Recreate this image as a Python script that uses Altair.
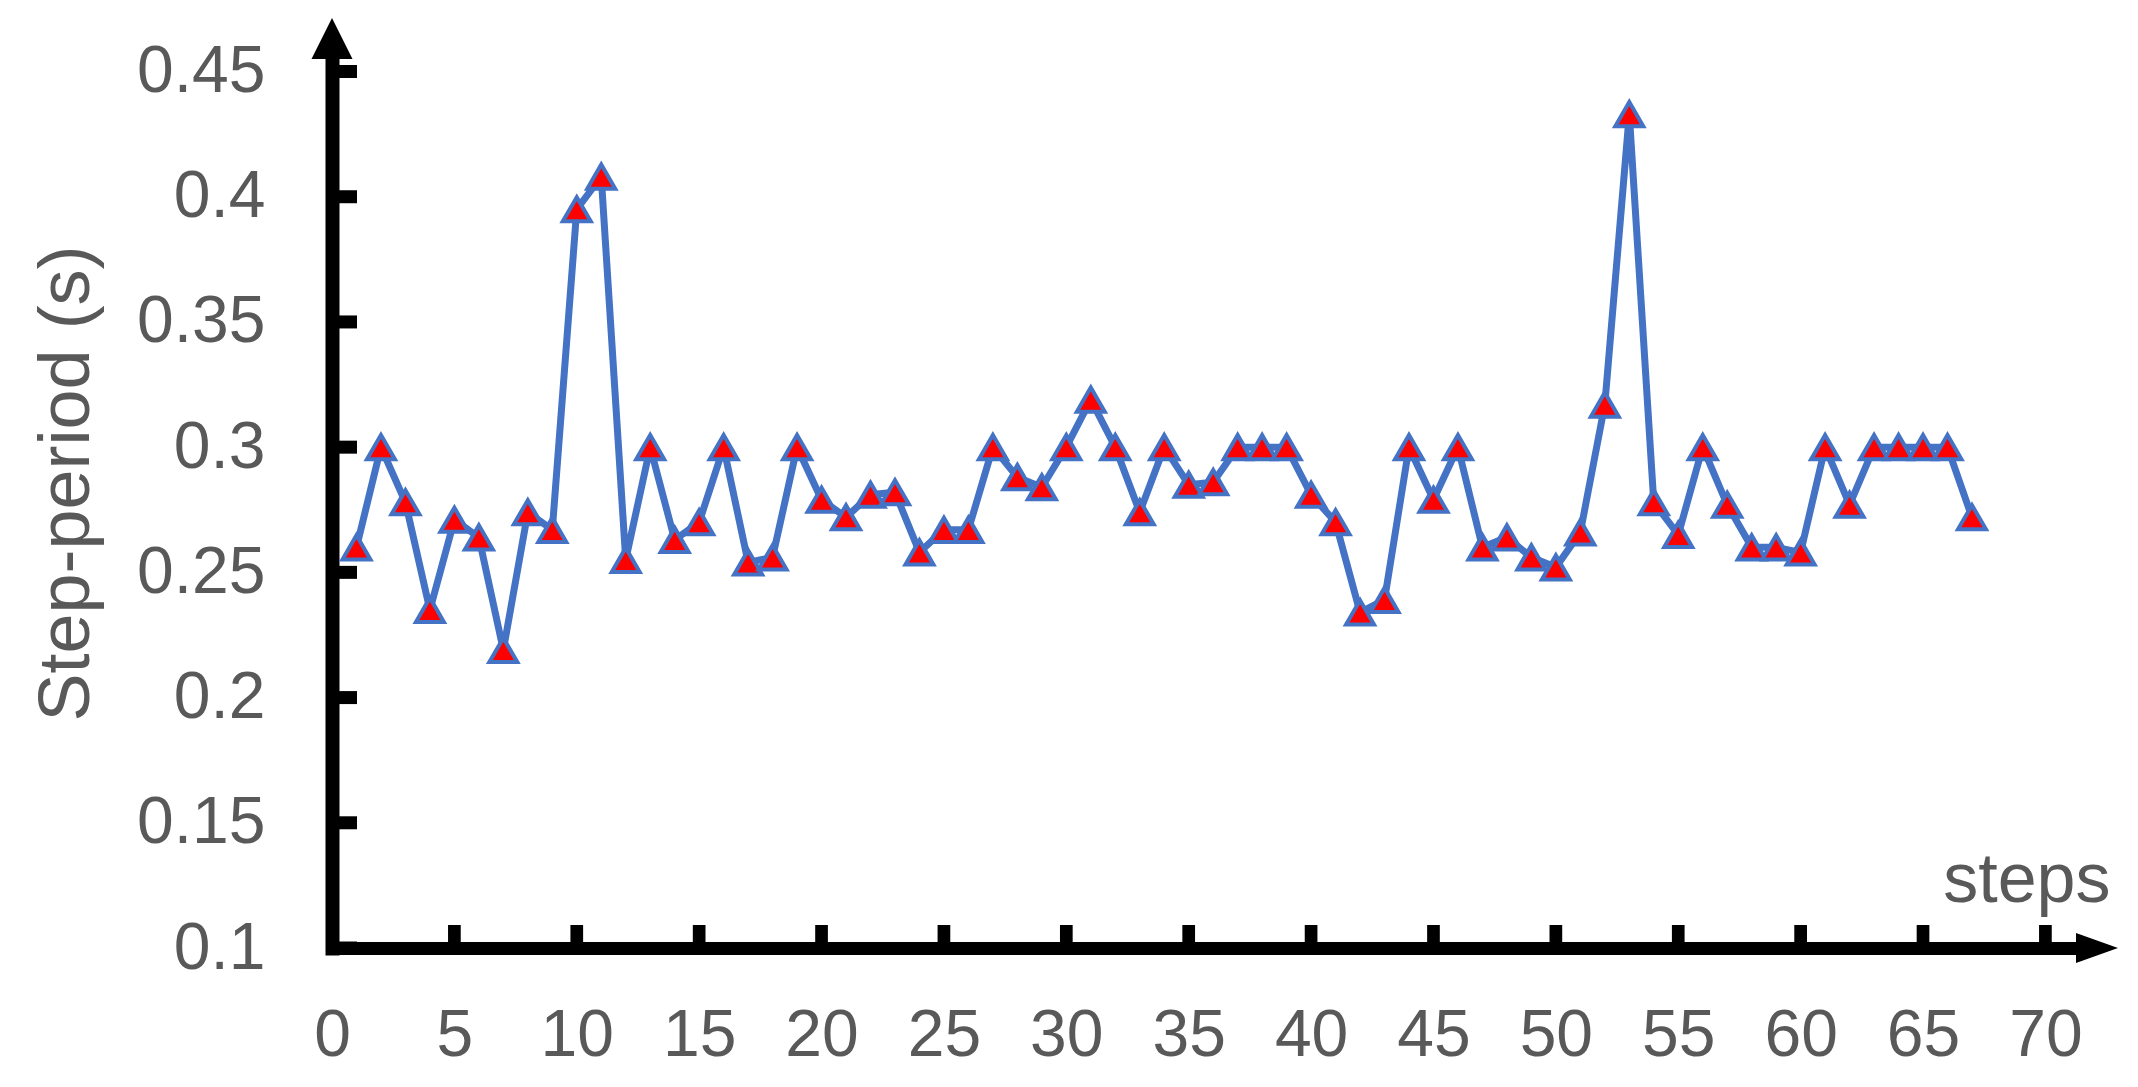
import altair as alt
import pandas as pd

# ---- data ----
steps = list(range(1, 68))
period = [0.260, 0.300, 0.278, 0.235, 0.271, 0.264, 0.219, 0.274, 0.267, 0.395,
          0.408, 0.255, 0.300, 0.263, 0.270, 0.300, 0.254, 0.256, 0.300, 0.279,
          0.272, 0.281, 0.282, 0.258, 0.267, 0.267, 0.300, 0.288, 0.284, 0.300,
          0.319, 0.300, 0.274, 0.300, 0.285, 0.286, 0.300, 0.300, 0.300, 0.281,
          0.270, 0.234, 0.239, 0.300, 0.279, 0.300, 0.260, 0.264, 0.256, 0.252,
          0.266, 0.317, 0.433, 0.278, 0.265, 0.300, 0.277, 0.260, 0.260, 0.258,
          0.300, 0.277, 0.300, 0.300, 0.300, 0.300, 0.272]
y_tick_values = [0.1, 0.15, 0.2, 0.25, 0.3, 0.35, 0.4, 0.45]
x_tick_values = [0, 5, 10, 15, 20, 25, 30, 35, 40, 45, 50, 55, 60, 65, 70]
x_inner_ticks = [5, 10, 15, 20, 25, 30, 35, 40, 45, 50, 55, 60, 65, 70]

X_MIN, X_MAX = 0, 71.25
Y_MIN, Y_MAX = 0.1, 0.455

W, H = 1744, 889
LABEL_FONT = "Liberation Sans"
GRAY = "#595959"
BLUE = "#4472C4"

df = pd.DataFrame({"step": steps, "period": period})
ytk = pd.DataFrame({"v": y_tick_values})
xtk = pd.DataFrame({"v": x_inner_ticks})
arrow_up = pd.DataFrame({"x": [X_MIN], "y": [Y_MAX]})
arrow_right = pd.DataFrame({"x": [X_MAX], "y": [Y_MIN]})

xs = alt.Scale(domain=[X_MIN, X_MAX], nice=False, zero=False)
ys = alt.Scale(domain=[Y_MIN, Y_MAX], nice=False, zero=False)

x_axis = alt.Axis(
    values=x_tick_values, format="d", grid=False, ticks=False,
    domain=True, domainColor="black", domainWidth=13, domainCap="square",
    labelFont=LABEL_FONT, labelFontSize=66, labelColor=GRAY, labelPadding=55,
    labelFlush=False, labelOverlap=False,
    title="steps", titleFont=LABEL_FONT, titleFontSize=70, titleColor=GRAY,
    titleFontWeight="normal", titleAlign="right", titleBaseline="alphabetic",
    titleX=1778, titleY=-47,
)
y_axis = alt.Axis(
    values=y_tick_values, format="~g", grid=False, ticks=False,
    domain=True, domainColor="black", domainWidth=14, domainCap="square",
    labelFont=LABEL_FONT, labelFontSize=66, labelColor=GRAY, labelPadding=67,
    labelOverlap=False, labelFlush=False,
    title="Step-period (s)", titleFont=LABEL_FONT, titleFontSize=72,
    titleColor=GRAY, titleFontWeight="normal", titleAngle=270,
    titleAlign="center", titleBaseline="alphabetic", titleX=-244, titleY=424,
)

line = alt.Chart(df).mark_line(color=BLUE, strokeWidth=7).encode(
    x=alt.X("step:Q", scale=xs, axis=x_axis),
    y=alt.Y("period:Q", scale=ys, axis=y_axis),
)
yticks = alt.Chart(ytk).mark_rule(color="black", strokeWidth=13).encode(
    y=alt.Y("v:Q", scale=ys),
    x=alt.value(0), x2=alt.value(25),
)
xticks = alt.Chart(xtk).mark_rule(color="black", strokeWidth=12.7).encode(
    x=alt.X("v:Q", scale=xs),
    y=alt.value(H), y2=alt.value(H - 23),
)
pts = alt.Chart(df).mark_point(
    shape="triangle-up", filled=True, fill="#FF0000", stroke=BLUE,
    strokeWidth=4, size=780, opacity=1,
).encode(
    x=alt.X("step:Q", scale=xs),
    y=alt.Y("period:Q", scale=ys),
)
up = alt.Chart(arrow_up).mark_point(
    shape="M0,-1L1,1L-1,1Z", filled=True, color="black", size=1681,
    opacity=1, yOffset=-20.5,
).encode(
    x=alt.X("x:Q", scale=xs),
    y=alt.Y("y:Q", scale=ys),
)
right = alt.Chart(arrow_right).mark_point(
    shape="M1,0L-1,-0.72L-1,0.72Z", filled=True, color="black", size=1764,
    opacity=1, xOffset=21,
).encode(
    x=alt.X("x:Q", scale=xs),
    y=alt.Y("y:Q", scale=ys),
)

chart = alt.layer(line, yticks, xticks, up, right, pts).properties(
    width=W, height=H,
    autosize=alt.AutoSizeParams(type="none"),
    padding={"left": 324, "top": 51, "right": 50, "bottom": 125},
    background="white",
).configure_view(stroke="transparent")

chart.save("out.html", embed_options={"renderer": "svg", "actions": False})
